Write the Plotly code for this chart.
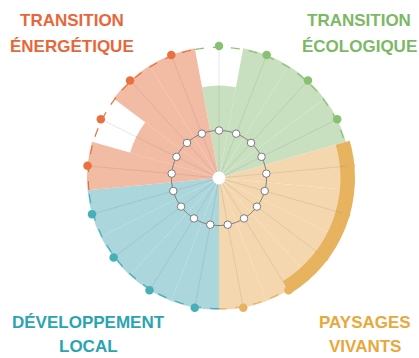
import plotly.graph_objects as go

# ---- data -------------------------------------------------------------
groups = (["eco"] * 4) + (["pay"] * 5) + (["dev"] * 4) + (["ene"] * 4)
values = [70, 100, 100, 100,
          100, 100, 100, 100, 100,
          100, 100, 100, 100,
          100, 70, 100, 100]
highlight = [False] * 4 + [True] * 4 + [False] * 9
ring_level = 36
outer_level = 100
band_base = 92
band_top = 103

group_titles = {
    "ene": ["TRANSITION", "ÉNERGÉTIQUE"],
    "eco": ["TRANSITION", "ÉCOLOGIQUE"],
    "dev": ["DÉVELOPPEMENT", "LOCAL"],
    "pay": ["PAYSAGES", "VIVANTS"],
}

# ---- styles -----------------------------------------------------------
fill = {"eco": "#C9E0C0", "pay": "#F5D7AF", "dev": "#AAD6DC", "ene": "#F2BBA4"}
accent = {"eco": "#88C172", "pay": "#E8B360", "dev": "#48AEB8", "ene": "#E9703F"}
title_color = {"eco": "#7DB867", "pay": "#E8A83B", "dev": "#2AA4B0", "ene": "#E8673A"}
band_color = "#E8B35E"
title_pos = {"ene": (72, 21, 46), "eco": (359, 21, 46),
             "dev": (88, 322, 346), "pay": (365, 322, 346)}

W, H = 419, 358
n = len(values)
step = 360.0 / n
centers = [i * step for i in range(n)]

fig = go.Figure()

# dashed outer circle, one arc per group (tucked just inside the bar tips)
order = []
for g in groups:
    if g not in order:
        order.append(g)
for g in order:
    idx = [i for i, gg in enumerate(groups) if gg == g]
    t0 = centers[idx[0]] - step / 2
    t1 = centers[idx[-1]] + step / 2
    k = int((t1 - t0) * 2) + 1
    th = [t0 + (t1 - t0) * j / (k - 1) for j in range(k)]
    fig.add_trace(go.Scatterpolar(
        r=[outer_level * 0.99] * k, theta=th, mode="lines",
        line=dict(color=accent[g], width=1.2, dash="dash"),
        hoverinfo="skip", showlegend=False))

# main bars
fig.add_trace(go.Barpolar(
    r=values, theta=centers, width=[step] * n,
    marker=dict(color=[fill[g] for g in groups], line=dict(width=0)),
    showlegend=False, hoverinfo="skip"))

# highlighted band over the outer rim
hl = [i for i, h in enumerate(highlight) if h]
b0 = centers[hl[0]] - step / 2
b1 = centers[hl[-1]]
fig.add_trace(go.Barpolar(
    r=[band_top - band_base], base=[band_base], theta=[(b0 + b1) / 2],
    width=[b1 - b0], marker=dict(color=band_color, line=dict(width=0)),
    showlegend=False, hoverinfo="skip"))

# spokes
sr, st = [], []
for c in centers:
    sr += [0, outer_level, None]
    st += [c, c, None]
fig.add_trace(go.Scatterpolar(
    r=sr, theta=st, mode="lines",
    line=dict(color="rgba(130,130,130,0.25)", width=0.8),
    hoverinfo="skip", showlegend=False))

# outer dots
fig.add_trace(go.Scatterpolar(
    r=[outer_level] * n, theta=centers, mode="markers",
    marker=dict(size=8.5, color=[band_color if h else accent[g] for g, h in zip(groups, highlight)]),
    hoverinfo="skip", showlegend=False))

# inner ring
ring_t = list(range(0, 361, 2))
fig.add_trace(go.Scatterpolar(
    r=[ring_level] * len(ring_t), theta=ring_t, mode="lines",
    line=dict(color="#7a7a7a", width=1),
    hoverinfo="skip", showlegend=False))
fig.add_trace(go.Scatterpolar(
    r=[ring_level] * n, theta=centers, mode="markers",
    marker=dict(size=7.5, color="white", line=dict(color="#7a7a7a", width=1)),
    hoverinfo="skip", showlegend=False))

# hub
fig.add_trace(go.Scatterpolar(
    r=[0], theta=[0], mode="markers",
    marker=dict(size=13, color="white"),
    hoverinfo="skip", showlegend=False))

# group titles
font_family = "Liberation Sans Narrow, Arial Narrow, Liberation Sans, Arial, sans-serif"
for g, (x, y1, y2) in title_pos.items():
    for line, y in zip(group_titles[g], (y1, y2)):
        fig.add_annotation(
            x=x / W, y=1 - y / H, xref="paper", yref="paper",
            text="<b>%s</b>" % line, showarrow=False,
            xanchor="center", yanchor="middle",
            font=dict(family=font_family, size=17, color=title_color[g]))

cx, cy, R = 219, 178, 137.3
fig.update_layout(
    width=W, height=H,
    margin=dict(l=0, r=0, t=0, b=0),
    paper_bgcolor="white", plot_bgcolor="white",
    bargap=0,
    polar=dict(
        domain=dict(x=[(cx - R) / W, (cx + R) / W],
                    y=[(H - cy - R) / H, (H - cy + R) / H]),
        bgcolor="rgba(0,0,0,0)",
        hole=0,
        radialaxis=dict(visible=False, range=[0, 104]),
        angularaxis=dict(visible=False, rotation=90, direction="clockwise"),
    ),
)

fig.write_html("out.html")
